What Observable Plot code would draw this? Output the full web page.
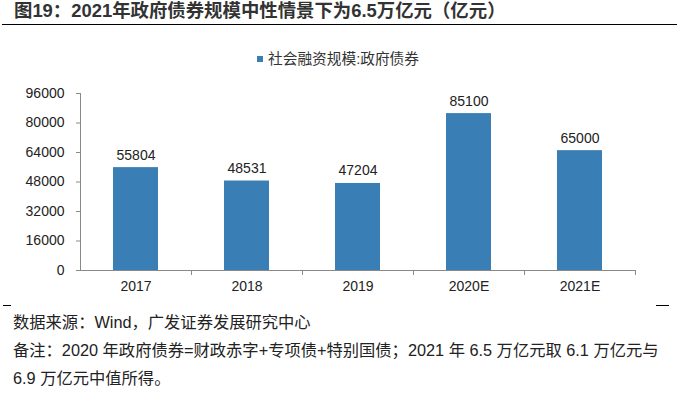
<!DOCTYPE html>
<html>
<head>
<meta charset="utf-8">
<script src="https://cdn.jsdelivr.net/npm/d3@7"></script>
<script src="https://cdn.jsdelivr.net/npm/@observablehq/plot@0.6"></script>
<style>
  html, body { margin: 0; padding: 0; background: #fff; }
  #page { position: relative; width: 694px; height: 399px; overflow: hidden;
          font-family: "Liberation Sans", Arial, "Noto Sans CJK SC", sans-serif; color: #222; }
  .abs { position: absolute; white-space: nowrap; }
  #title { left: 14px; top: 1px; font-size: 18.4px; line-height: 20px; font-weight: bold; color: #333; }
  #titleRule { left: 2px; top: 24px; width: 675px; height: 1px; background: #000; }
  #legSq { left: 257px; top: 56px; width: 6px; height: 6px; background: #3A7EB6; }
  #legTx { left: 268px; top: 50px; font-size: 14.7px; line-height: 18px; color: #333; }
  .dash { top: 305px; height: 1px; background: #000; }
  .note { left: 13px; font-size: 16.3px; line-height: 20px; color: #222; }
  #chart { left: 0; top: 70px; }
</style>
</head>
<body>
<div id="page">
  <div id="title" class="abs"></div>
  <div id="titleRule" class="abs"></div>
  <div id="legSq" class="abs"></div>
  <div id="legTx" class="abs"></div>
  <div id="chart" class="abs"></div>
  <div class="abs dash" style="left:3px;width:8px;"></div>
  <div class="abs dash" style="left:656px;width:13px;"></div>
  <div id="n1" class="abs note" style="top:312px;"></div>
  <div id="n2" class="abs note" style="top:340px;"></div>
  <div id="n3" class="abs note" style="top:368px;"></div>
</div>
<script>
const titleText = "图19：2021年政府债券规模中性情景下为6.5万亿元（亿元）";
const seriesName = "社会融资规模:政府债券";
const categories = ["2017", "2018", "2019", "2020E", "2021E"];
const values = [55804, 48531, 47204, 85100, 65000];
const yTicks = [0, 16000, 32000, 48000, 64000, 80000, 96000];
const notes = [
  "数据来源：Wind，广发证券发展研究中心",
  "备注：2020 年政府债券=财政赤字+专项债+特别国债；2021 年 6.5 万亿元取 6.1 万亿元与",
  "6.9 万亿元中值所得。"
];

document.getElementById("title").textContent = titleText;
document.getElementById("legTx").textContent = seriesName;
document.getElementById("n1").textContent = notes[0];
document.getElementById("n2").textContent = notes[1];
document.getElementById("n3").textContent = notes[2];

const data = categories.map((c, i) => ({year: c, value: values[i]}));
const barColor = "#3A7EB6";
const axisColor = "#898989";

const chart = Plot.plot({
  width: 694,
  height: 230,
  marginTop: 23,
  marginBottom: 30,
  marginLeft: 80,
  marginRight: 59,
  style: {fontFamily: "'Liberation Sans', Arial, sans-serif", fontSize: "14px", color: "#222", background: "transparent"},
  x: {domain: categories, paddingInner: 0.595, paddingOuter: 0.2975, label: null},
  y: {domain: [0, 96000], label: null},
  marks: [
    Plot.axisY({ticks: yTicks, tickFormat: d3.format("d"), tickSize: 4, tickPadding: 12, fontSize: 14, label: null}),
    Plot.axisX({tickSize: 0, tickPadding: 11, fontSize: 14, label: null}),
    Plot.barY(data, {x: "year", y: "value", fill: barColor}),
    Plot.ruleY([0], {stroke: axisColor}),
    Plot.text(data, {x: "year", y: "value", text: d => String(d.value), dy: -8, lineAnchor: "bottom", fontSize: 14, fill: "#222"})
  ]
});

document.getElementById("chart").appendChild(chart);

// style tick lines grey
const svg = d3.select(chart);
svg.selectAll('g[aria-label="y-axis tick"] path').attr("stroke", axisColor);
svg.selectAll('g[aria-label="y-axis tick label"] text').attr("fill", "#222");
svg.selectAll('g[aria-label="x-axis tick label"] text').attr("fill", "#222");

// y axis line and x boundary ticks using the plot's scales
const xs = chart.scale("x");
const ys = chart.scale("y");
const xScale = d3.scaleBand().domain(xs.domain).range(xs.range)
  .paddingInner(xs.paddingInner ?? 0.595).paddingOuter(xs.paddingOuter ?? 0.2975);
const yScale = d3.scaleLinear().domain(ys.domain).range(ys.range);
const step = xScale.step();
const first = xScale(categories[0]) - (step - xScale.bandwidth()) / 2;
const y0 = yScale(0);
const g = svg.append("g").attr("stroke", axisColor).attr("fill", "none");
g.append("line").attr("x1", xs.range[0] + 0.5).attr("x2", xs.range[0] + 0.5)
  .attr("y1", yScale(yTicks[yTicks.length - 1])).attr("y2", y0);
for (let i = 1; i <= categories.length; i++) {
  const xb = Math.round(first + i * step) + 0.5;
  g.append("line").attr("x1", xb).attr("x2", xb).attr("y1", y0).attr("y2", y0 + 5);
}
</script>
</body>
</html>
